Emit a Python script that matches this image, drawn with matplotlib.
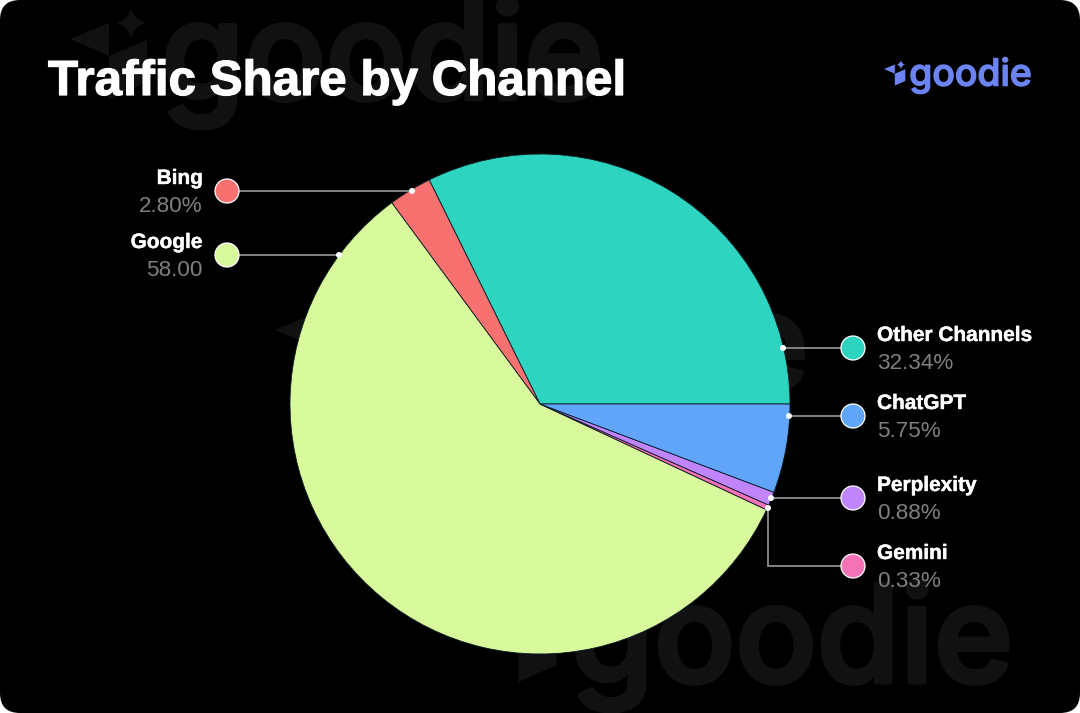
import matplotlib
matplotlib.use("Agg")
import matplotlib.pyplot as plt
import matplotlib.patheffects as pe
from matplotlib.patches import FancyBboxPatch, Polygon, PathPatch, Circle
from matplotlib.path import Path

W, H = 1080, 713

# Data
channels = ["Other Channels", "Bing", "Google", "Gemini", "Perplexity", "ChatGPT"]
shares = [32.34, 2.80, 58.00, 0.33, 0.88, 5.75]
value_labels = ["32.34%", "2.80%", "58.00", "0.33%", "0.88%", "5.75%"]
colors = ["#2DD4BF", "#F87171", "#D9F99D", "#F472B6", "#C084FC", "#60A5FA"]
title = "Traffic Share by Channel"
brand = "goodie"

# Layout
LOGO_COLOR = "#6C84F2"
WM_COLOR = "#111111"
GREY = "#8C8C8C"
cx, cy, r = 540, 404, 250
callouts = {
    # marker x, marker y, dot x, dot y, text side
    "Bing": (227, 191, 412, 191, "left"),
    "Google": (227, 255, 339, 255, "left"),
    "Other Channels": (853, 348, 783, 348, "right"),
    "ChatGPT": (853, 416, 789, 416, "right"),
    "Perplexity": (853, 498, 771, 498, "right"),
    "Gemini": (853, 566, 768, 508, "right"),
}

fig = plt.figure(figsize=(W / 100, H / 100), dpi=100, facecolor="white")


def full_axes(z):
    ax = fig.add_axes([0, 0, 1, 1], zorder=z)
    ax.set_xlim(0, W)
    ax.set_ylim(H, 0)
    ax.axis("off")
    return ax


bg = full_axes(0)
bg.add_patch(FancyBboxPatch((18, 18), W - 36, H - 36, boxstyle="round,pad=18,rounding_size=20",
                            fc="black", ec="none"))


def logo(ax, x0, y0, s, color):
    """Brand mark: icon + wordmark; x0,y0 = left tip of the icon."""
    def P(x, y):
        return (x0 + (x - 70) * s, y0 + (y - 39) * s)
    ax.add_patch(Polygon([P(70, 39), P(109, 23), P(109, 56)], fc=color, ec="none"))
    ax.add_patch(Polygon([P(109, 56), P(147, 40), P(147, 82), P(109, 99)], fc=color, ec="none"))
    cxs, cys, k = 131, 23, 2.5
    verts = [P(cxs, cys - 16), P(cxs + k, cys - k), P(cxs + 15, cys), P(cxs + k, cys + k), P(cxs, cys + 16),
             P(cxs - k, cys + k), P(cxs - 15, cys), P(cxs - k, cys - k), P(cxs, cys - 16)]
    codes = [Path.MOVETO] + [Path.CURVE3] * 8
    ax.add_patch(PathPatch(Path(verts, codes), fc=color, ec="none"))
    tx, ty = P(161, 99)
    ax.text(tx, ty, brand, color=color, fontsize=97 * s, family="Inter", fontweight="medium",
            ha="left", va="baseline", zorder=3,
            path_effects=[pe.withStroke(linewidth=3.5 * s, foreground=color)])


for (x0, y0) in [(70, 39), (275, 330), (479.5, 622)]:
    logo(bg, x0, y0, 1.0, WM_COLOR)
logo(bg, 884, 69, 0.277, LOGO_COLOR)

bg.text(48, 95, title, color="white", fontsize=35.5, fontweight="bold",
        family="Liberation Sans", ha="left", va="baseline", zorder=5,
        path_effects=[pe.withStroke(linewidth=0.9, foreground="white")])

# Pie
m = 1.02
pie_ax = fig.add_axes([(cx - r * m) / W, 1 - (cy + r * m) / H, 2 * r * m / W, 2 * r * m / H], zorder=1)
pie_ax.pie(shares, colors=colors, startangle=0, counterclock=True, radius=1,
           wedgeprops=dict(edgecolor="#0b1a24", linewidth=0.6))
pie_ax.set_xlim(-m, m)
pie_ax.set_ylim(-m, m)
pie_ax.axis("off")

# Callouts
top = full_axes(2)
top.patch.set_alpha(0)
for name, val, col in zip(channels, value_labels, colors):
    mx, my, dx, dy, side = callouts[name]
    if dy == my:
        xs, ys = [dx, mx], [dy, my]
    else:
        xs, ys = [dx, dx, mx], [dy, my, my]
    top.plot(xs, ys, color=GREY, lw=1.3, solid_joinstyle="miter", zorder=2)
    top.add_patch(Circle((dx, dy), 3, fc="white", ec="none", zorder=3))
    top.add_patch(Circle((mx, my), 12, fc=col, ec="white", lw=0.9, zorder=3))
    tx = 203 if side == "left" else 877
    ha = "right" if side == "left" else "left"
    top.text(tx, my - 7, name, color="white", fontsize=15, fontweight="bold",
             family="Liberation Sans", ha=ha, va="baseline", zorder=4,
             path_effects=[pe.withStroke(linewidth=0.3, foreground="white")])
    top.text(tx, my + 21, val, color="#7F7F7F", fontsize=16.2,
             family="Liberation Sans", ha=ha, va="baseline", zorder=4)

fig.savefig("out.png", dpi=100, facecolor=fig.get_facecolor())
